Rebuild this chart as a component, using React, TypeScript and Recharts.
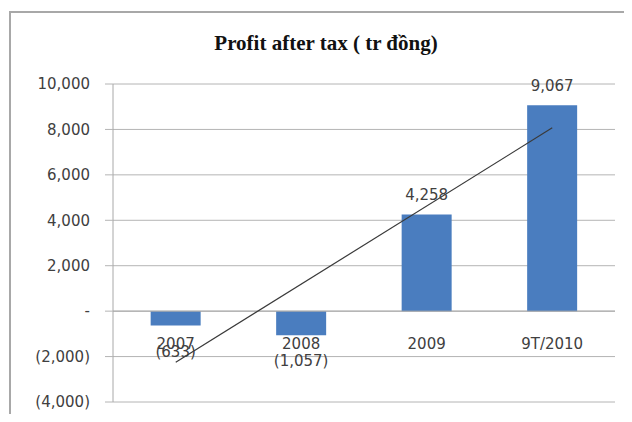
import React from "react";
import {
  ComposedChart,
  Bar,
  Line,
  XAxis,
  YAxis,
  CartesianGrid,
  ReferenceLine,
  LabelList,
} from "recharts";

const years = ["2007", "2008", "2009", "9T/2010"];
const profit = [-633, -1057, 4258, 9067];
// linear trendline at its two ends
const trend: (number | null)[] = [-2250, null, null, 8070];
const yTicks = [-4000, -2000, 0, 2000, 4000, 6000, 8000, 10000];

const data = years.map((year, i) => ({ year, profit: profit[i], trend: trend[i] }));

const font = "'DejaVu Sans', sans-serif";
const textColor = "#404040";

const fmt = (v: number) => {
  if (v === 0) return "-";
  const s = Math.abs(v).toLocaleString("en-US");
  return v < 0 ? `(${s})` : s;
};

const ValueLabel = (props: any) => {
  const { x, y, width, height, value } = props;
  const top = Math.min(y, y + height);
  const bottom = Math.max(y, y + height);
  const cx = x + width / 2;
  const cy = value >= 0 ? top - 19 : bottom + 26;
  return (
    <text x={cx} y={cy} textAnchor="middle" dominantBaseline="central" fontFamily={font} fontSize={15} fill={textColor}>
      {fmt(value)}
    </text>
  );
};

const YearLabel = (props: any) => {
  const { x, y, width, height, value, index } = props;
  const top = Math.min(y, y + height);
  const bottom = Math.max(y, y + height);
  const zero = profit[index] >= 0 ? bottom : top;
  return (
    <text x={x + width / 2} y={zero + 33} textAnchor="middle" dominantBaseline="central" fontFamily={font} fontSize={15} fill={textColor}>
      {value}
    </text>
  );
};

export default function App() {
  return (
    <div style={{ position: "relative", width: 632, height: 422, margin: -8, overflow: "hidden", background: "#fff" }}>
      <div
        style={{
          position: "absolute",
          left: 9,
          top: 11,
          width: 640,
          height: 430,
          border: "2px solid #a8a8a8",
          boxSizing: "border-box",
        }}
      />
      <div
        style={{
          position: "absolute",
          left: 0,
          top: 31,
          width: 632,
          textAlign: "center",
          paddingLeft: 20,
          boxSizing: "border-box",
          fontFamily: "'Liberation Serif', serif",
          fontWeight: "bold",
          fontSize: 21,
          color: "#111",
        }}
      >
        Profit after tax ( tr đồng)
      </div>
      <div style={{ position: "absolute", left: 0, top: 0 }}>
        <ComposedChart width={632} height={422} data={data} margin={{ top: 84, right: 17, bottom: 20, left: 0 }} barCategoryGap="30%">
          <CartesianGrid horizontal vertical={false} stroke="#b4b4b4" />
          <XAxis dataKey="year" hide />
          <YAxis
            width={113}
            domain={[-4000, 10000]}
            ticks={yTicks}
            interval={0}
            tickFormatter={fmt}
            axisLine={{ stroke: "#a8a8a8" }}
            tickLine={{ stroke: "#b4b4b4" }}
            tickSize={8}
            tickMargin={15}
            tick={{ fontFamily: font, fontSize: 15, fill: textColor }}
          />
          <ReferenceLine y={0} stroke="#a8a8a8" />
          <Bar dataKey="profit" fill="#4a7dbf" isAnimationActive={false}>
            <LabelList dataKey="profit" content={<ValueLabel />} />
            <LabelList dataKey="year" content={<YearLabel />} />
          </Bar>
          <Line
            dataKey="trend"
            type="linear"
            stroke="#3a3a3a"
            strokeWidth={1.2}
            dot={false}
            activeDot={false}
            connectNulls
            isAnimationActive={false}
          />
        </ComposedChart>
      </div>
    </div>
  );
}
